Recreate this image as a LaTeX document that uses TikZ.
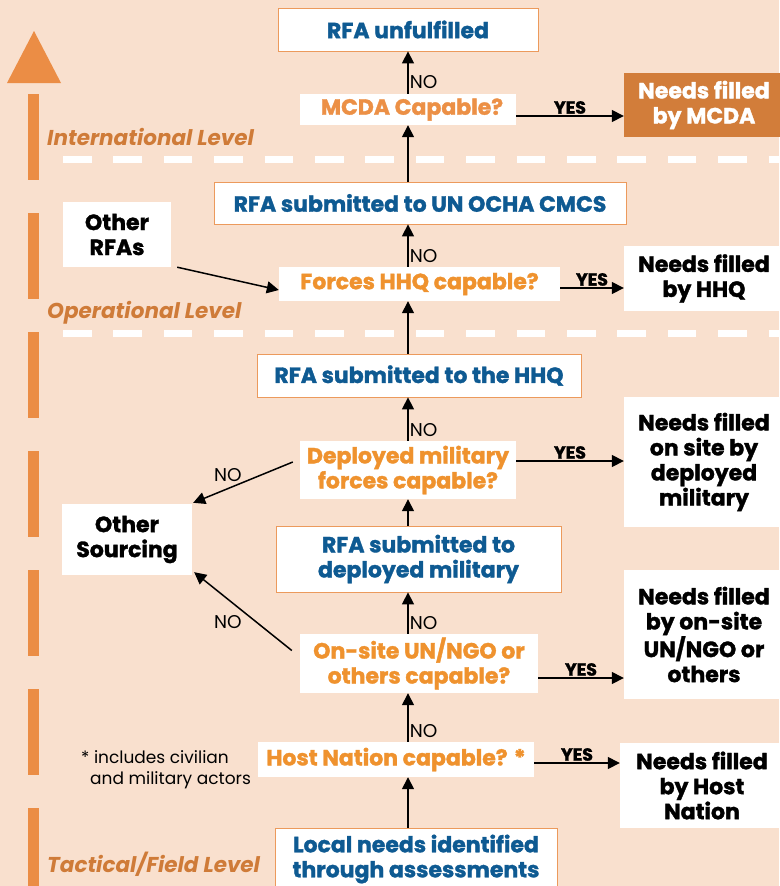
\documentclass[tikz,border=0pt]{standalone}
\usepackage{fontspec}
\setmainfont{Poppins}[BoldFeatures={FakeBold=1.5}]
\usetikzlibrary{arrows.meta,calc}

\definecolor{bgpeach}{HTML}{F9E0CE}
\definecolor{barorange}{HTML}{EB8D45}
\definecolor{levelorange}{HTML}{CF7B38}
\definecolor{askorange}{HTML}{EF922E}
\definecolor{mcdaorange}{HTML}{EC9046}
\definecolor{rfablue}{HTML}{0E5A92}
\definecolor{boxedge}{HTML}{EC9A5C}
\definecolor{mcdafill}{HTML}{D27D3A}

\tikzset{
  boxfont/.style={font=\bfseries\fontsize{22}{25}\selectfont},
  bluebox/.style={boxfont, draw=boxedge, line width=0.8pt, fill=white, text=rfablue,
    align=center, inner sep=0pt},
  askbox/.style={boxfont, fill=white, text=askorange, align=center, inner sep=0pt},
  resultbox/.style={boxfont, fill=white, text=black, align=center, inner sep=0pt},
  flow/.style={line width=1.5pt, -{Triangle[length=12pt,width=12pt]}},
  yeslab/.style={font=\bfseries\fontsize{17.5}{17.5}\selectfont, inner sep=0pt, anchor=south, yshift=1.5pt},
  nolab/.style={font=\fontsize{18.5}{18.5}\selectfont, inner sep=1pt},
  levellab/.style={font=\bfseries\itshape\fontsize{21.5}{24}\selectfont, text=levelorange,
    anchor=base west, inner sep=0pt},
  noteline/.style={font=\fontsize{17}{17}\selectfont, anchor=base west, inner sep=0pt},
  levelsplit/.style={draw=white, line width=7pt, dash pattern=on 28.5pt off 21.9pt},
}

\begin{document}
\begin{tikzpicture}[x=1pt,y=-1pt]
\path[use as bounding box, fill=bgpeach] (0,0) rectangle (779,886);

% upward level bar on the left
\fill[barorange] (7,83) -- (34,31) -- (61,83) -- cycle;
\draw[barorange, line width=11pt, dash pattern=on 86pt off 33pt] (33.5,94) -- (33.5,900);

% boundaries between the levels
\draw[levelsplit] (63,159) -- (790,159);
\draw[levelsplit] (63,333) -- (790,333);

% level names
\node[levellab] (lint) at (47,145) {International Level};
\node[levellab] (lop)  at (47,318) {Operational Level};
\node[levellab] (ltac) at (47,872) {Tactical/Field Level};

% vertical spine of the flow
\coordinate (spine) at (408,0);

% main column
\node[bluebox, minimum width=260, minimum height=43] (unful) at (408,29.5) {RFA unfulfilled};
\node[askbox, text=mcdaorange, minimum width=216, minimum height=31] (mcda) at (408,109.5) {\hspace*{8pt}MCDA Capable?};
\node[bluebox, minimum width=412, minimum height=42] (ocha) at (420,203) {RFA submitted to UN OCHA CMCS};
\node[askbox, minimum width=281, minimum height=34] (hhqq) at (419.5,284) {Forces HHQ capable?};
\node[bluebox, minimum width=324, minimum height=43] (rhhq) at (419,375.5) {RFA submitted to the HHQ};
\node[askbox, minimum width=216, minimum height=58] (dep) at (408,470) {Deployed military\\forces capable?};
\node[bluebox, minimum width=285, minimum height=66] (rdep) at (418.5,559) {RFA submitted to\\deployed military};
\node[askbox, minimum width=238, minimum height=59] (onsite) at (419,663.5) {On-site UN/NGO or\\others capable?};
\node[askbox, minimum width=276, minimum height=35] (host) at (396,759.5) {Host Nation capable? *};
\node[bluebox, minimum width=282, minimum height=62] (local) at (416,859) {Local needs identified\\through assessments};

% outcomes on the right
\node[boxfont, fill=mcdafill, text=white, align=center, inner sep=0pt,
      minimum width=160, minimum height=64] (nmcda) at (704,105) {Needs filled\\by MCDA};
\node[resultbox, minimum width=160, minimum height=65] (nhhq) at (704,278.5) {Needs filled\\by HHQ};
\node[resultbox, minimum width=160, minimum height=130] (ndep) at (704,462) {Needs filled\\on site by\\deployed\\military};
\node[resultbox, minimum width=160, minimum height=129] (nonsite) at (704,634.5) {Needs filled\\by on-site\\UN/NGO or\\others};
\node[resultbox, minimum width=164, minimum height=85] (nhost) at (702,785.5) {Needs filled\\by Host\\Nation};

% side boxes on the left
\node[resultbox, minimum width=108, minimum height=65] (orfa) at (117,234.5) {Other\\RFAs};
\node[resultbox, minimum width=130, minimum height=71] (osrc) at (127,539.5) {Other\\Sourcing};

% footnote
\node[noteline] (note1) at (81,763) {* includes civilian};
\node[noteline] (note2) at (90,784) {and military actors};

% upward flow
\draw[flow] (local.north -| spine) -- (host.south -| spine);
\draw[flow] (host.north -| spine) -- node[nolab, pos=0.22, anchor=west] (no5) {NO} (onsite.south -| spine);
\draw[flow] (onsite.north -| spine) -- node[nolab, pos=0.26, anchor=west] (no4) {NO} (rdep.south -| spine);
\draw[flow] (rdep.north -| spine) -- (dep.south -| spine);
\draw[flow] (dep.north -| spine) -- node[nolab, pos=0.25, anchor=west] (no3) {NO} (rhhq.south -| spine);
\draw[flow] (rhhq.north -| spine) -- (hhqq.south -| spine);
\draw[flow] (hhqq.north -| spine) -- node[nolab, pos=0.26, anchor=west] (no2) {NO} (ocha.south -| spine);
\draw[flow] (ocha.north -| spine) -- (mcda.south -| spine);
\draw[flow] (mcda.north -| spine) -- node[nolab, pos=0.28, anchor=west] (no1) {NO} (unful.south -| spine);

% YES branches
\draw[flow] (mcda.east |- 0,116) -- node[yeslab] (y1) {YES} (nmcda.west |- 0,116);
\draw[flow] (hhqq.east |- 0,288) -- node[yeslab] (y2) {YES} (nhhq.west |- 0,288);
\draw[flow] (dep.east |- 0,461) -- node[yeslab] (y3) {YES} (ndep.west |- 0,461);
\draw[flow] (onsite.east |- 0,678) -- node[yeslab] (y4) {YES} (nonsite.west |- 0,678);
\draw[flow] (host.east |- 0,763) -- node[yeslab] (y5) {YES} (nhost.west |- 0,763);

% other requests feeding in, other sourcing going out
\draw[flow] ([xshift=6pt]orfa.south east) -- ([yshift=-6pt]hhqq.west);
\draw[flow] ([xshift=-7pt,yshift=8pt]dep.west) -- ([xshift=1pt,yshift=1pt]osrc.north east);
\draw[flow] ([xshift=-8pt,yshift=13pt]onsite.west) -- ([xshift=2pt,yshift=3pt]osrc.south east);
\node[nolab] (no6) at (228,475) {NO};
\node[nolab] (no7) at (228,622) {NO};
\end{tikzpicture}
\end{document}
